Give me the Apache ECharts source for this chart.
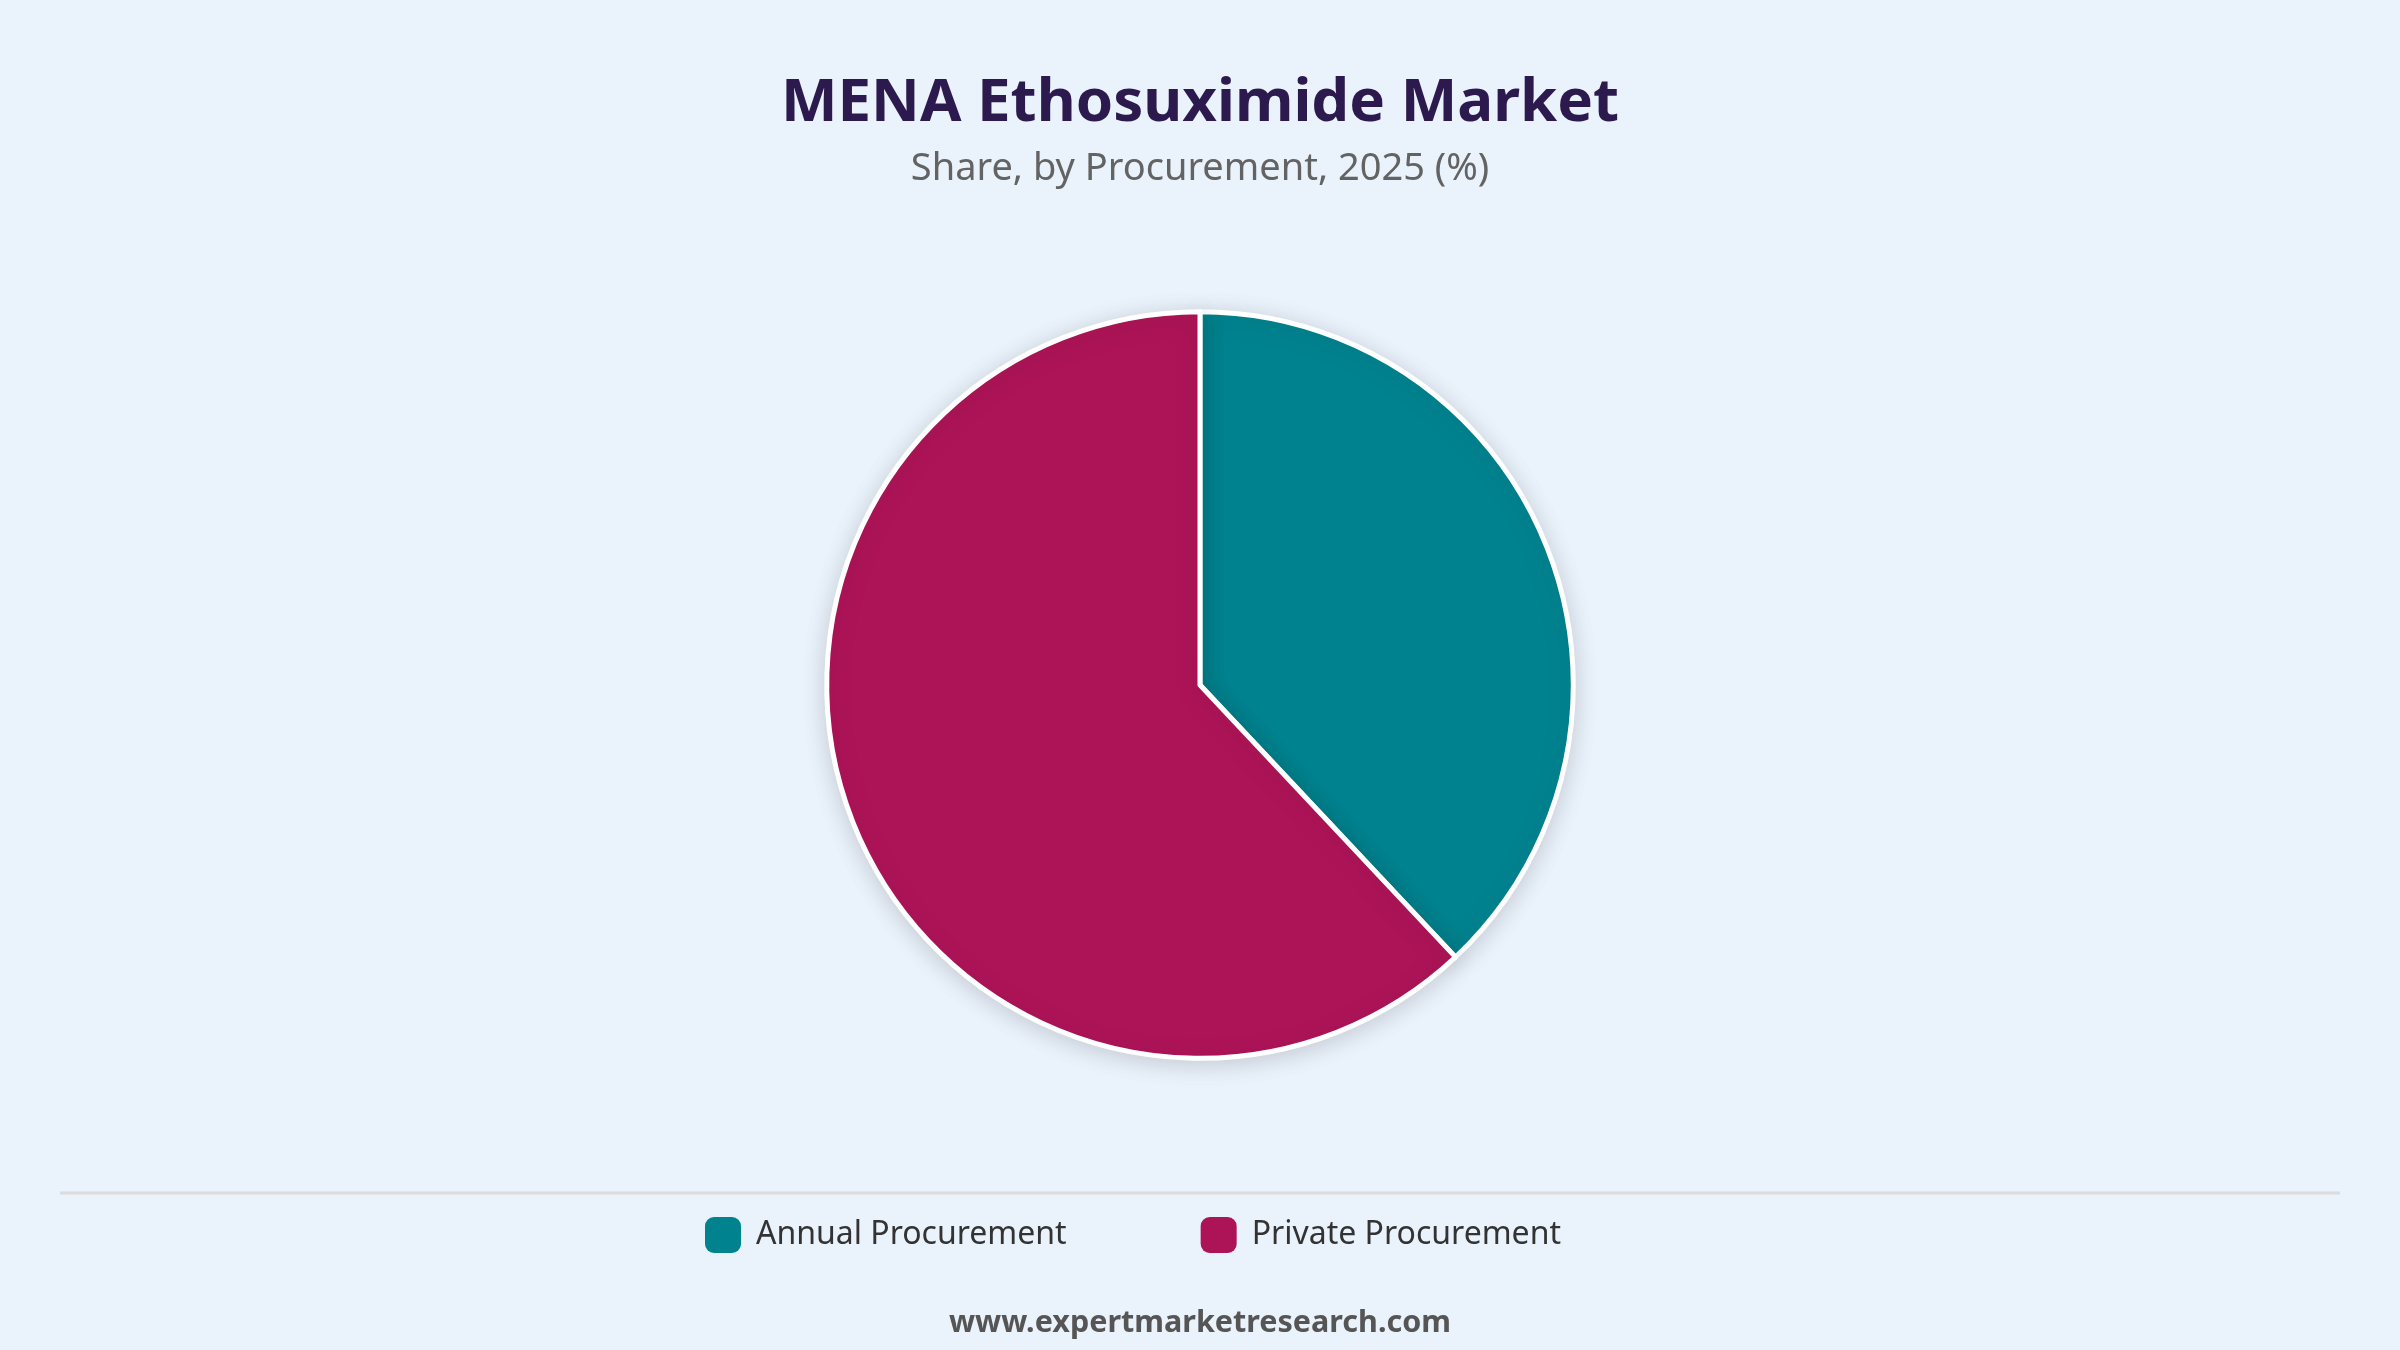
<!DOCTYPE html>
<html>
<head>
<meta charset="utf-8">
<title>MENA Ethosuximide Market</title>
<script src="https://cdn.jsdelivr.net/npm/echarts@6/dist/echarts.min.js"></script>
<style>
  html, body { margin: 0; padding: 0; background: #eaf2fb; }
  #chart { width: 2400px; height: 1350px; }
</style>
</head>
<body>
<div id="chart"></div>
<script>
// data
const categories = ['Annual Procurement', 'Private Procurement'];
const shares = [38, 62];
const colors = ['#00838f', '#ad1457'];

const FONT = '"Noto Sans", "Open Sans", sans-serif';

const chart = echarts.init(document.getElementById('chart'));

const option = {
    backgroundColor: '#eaf2fb',
    title: [{
        text: 'MENA Ethosuximide Market',
        left: 'center',
        top: 69,
        textStyle: {
            fontFamily: FONT,
            fontSize: 60,
            fontWeight: 'bold',
            color: '#2c1a4e'
        }
    }, {
        text: 'Share, by Procurement, 2025 (%)',
        left: 'center',
        top: 145,
        textStyle: {
            fontFamily: FONT,
            fontSize: 38,
            fontWeight: 'normal',
            color: '#636363'
        }
    }, {
        text: 'www.expertmarketresearch.com',
        left: 'center',
        top: 1303,
        textStyle: {
            fontFamily: FONT,
            fontSize: 30.5,
            fontWeight: 'bold',
            color: '#555555'
        }
    }],
    legend: {
        data: categories,
        left: 700,
        top: 1212,
        itemWidth: 36,
        itemHeight: 36,
        itemGap: 134,
        icon: 'roundRect',
        itemStyle: { borderWidth: 0 },
        textStyle: {
            fontFamily: FONT,
            fontSize: 32,
            color: '#333333',
            padding: [0, 0, 0, 10]
        }
    },
    graphic: [{
        type: 'line',
        shape: { x1: 60, y1: 1193, x2: 2340, y2: 1193 },
        style: { stroke: '#dcdcdc', lineWidth: 3 }
    }],
    series: [{
        type: 'pie',
        center: [1200, 685],
        radius: '55.3%',
        startAngle: 90,
        clockwise: true,
        label: { show: false },
        labelLine: { show: false },
        emphasis: { scale: false },
        itemStyle: {
            borderColor: '#ffffff',
            borderWidth: 5,
            shadowBlur: 24,
            shadowOffsetY: 4,
            shadowColor: 'rgba(0, 0, 0, 0.15)'
        },
        data: categories.map((name, i) => ({
            name: name,
            value: shares[i],
            itemStyle: { color: colors[i] }
        }))
    }]
};

chart.setOption(option);
</script>
</body>
</html>
